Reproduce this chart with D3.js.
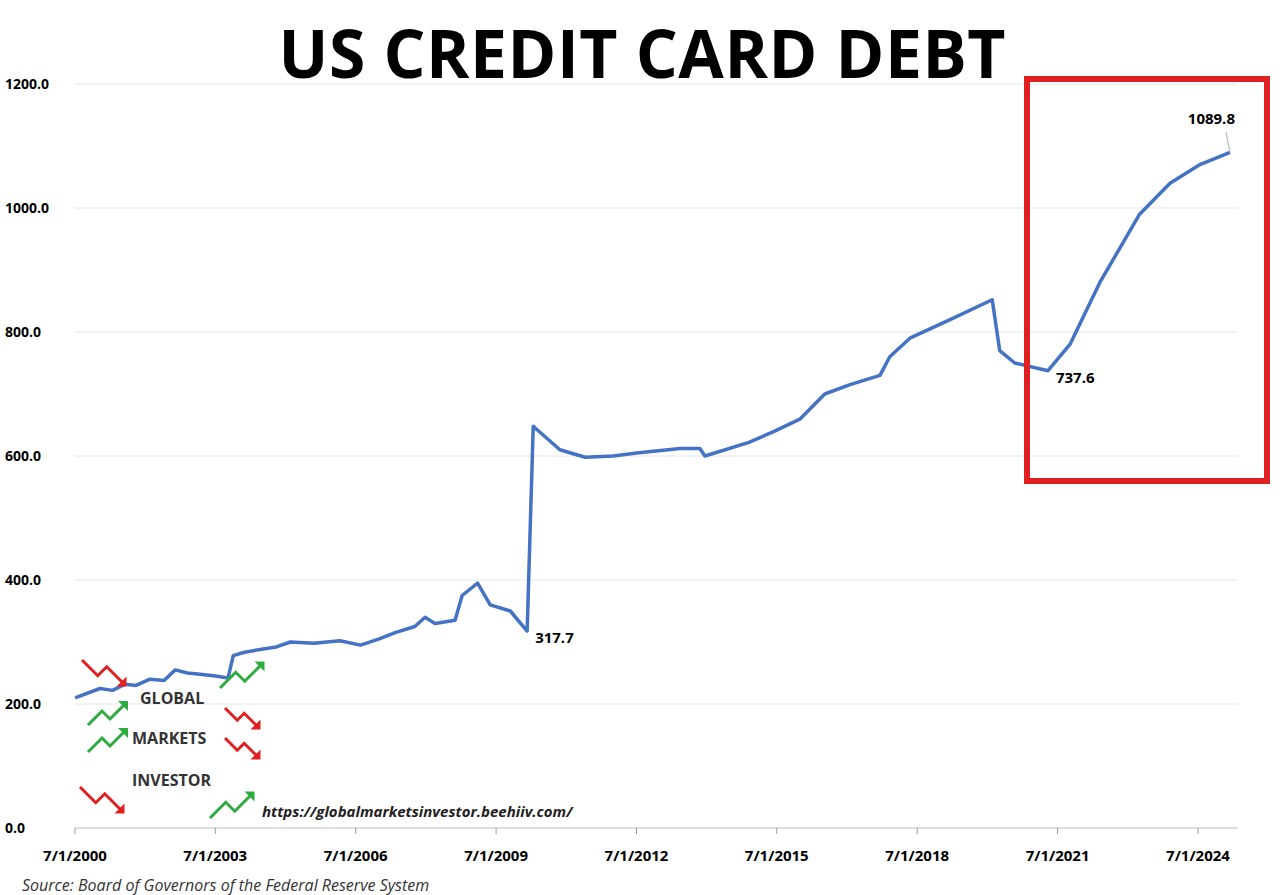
<!DOCTYPE html><html><head><meta charset="utf-8">
<script src="https://cdn.jsdelivr.net/npm/d3@7"></script>
<style>body{margin:0;background:#fff}text{font-family:"Open Sans","Liberation Sans",sans-serif}</style></head><body>
<svg id="c" width="1284" height="895"></svg>
<script>
const years=[2000.5,2001.03,2001.3,2001.57,2001.8,2002.1,2002.4,2002.64,2002.9,2003.17,2003.5,2003.77,2003.88,2004.1,2004.45,2004.8,2005.1,2005.6,2006.16,2006.6,2007.0,2007.34,2007.76,2007.98,2008.19,2008.62,2008.77,2009.1,2009.37,2009.8,2010.16,2010.29,2010.86,2011.4,2012.0,2012.5,2013.43,2013.85,2013.96,2014.9,2015.45,2016.0,2016.52,2017.06,2017.7,2017.91,2018.34,2019.2,2020.1,2020.26,2020.58,2021.29,2021.76,2022.4,2023.25,2023.9,2024.54,2025.18];
const values=[210,225,222,232,230,240,238,255,250,248,245,242,278,283,288,292,300,298,302,295,305,315,325,340,330,335,375,395,360,350,317.7,648,610,598,600,605,612,612,600,622,640,660,700,715,730,760,790,820,852,770,750,737.6,780,880,990,1040,1070,1089.8];
const yTicks=[0,200,400,600,800,1000,1200];
const xTickYears=[2000,2003,2006,2009,2012,2015,2018,2021,2024];
const labels=[{i:30,t:"317.7"},{i:51,t:"737.6"}];
const svg=d3.select("#c");
const toDate=yr=>{const y0=Math.floor(yr);const a=new Date(y0,0,1),b=new Date(y0+1,0,1);return new Date(+a+(b-a)*(yr-y0));};
const x=d3.scaleTime().domain([new Date(2000,6,1),new Date(2024,6,1)]).range([75,1198]);
const y=d3.scaleLinear().domain([0,1200]).range([828,84]);
svg.append("g").selectAll("line").data(yTicks.slice(1)).join("line").attr("x1",75).attr("x2",1238).attr("y1",d=>y(d)).attr("y2",d=>y(d)).attr("stroke","#e6e6e6");
svg.append("line").attr("x1",75).attr("x2",1238).attr("y1",y(0)).attr("y2",y(0)).attr("stroke","#bbb");
svg.append("g").selectAll("text").data(yTicks).join("text").attr("x",5).attr("y",d=>y(d)+5).attr("font-size",14).attr("font-weight","bold").text(d=>d.toFixed(1));
const xt=xTickYears.map(yr=>new Date(yr,6,1));
svg.append("g").selectAll("line").data(xt).join("line").attr("x1",d=>x(d)).attr("x2",d=>x(d)).attr("y1",828).attr("y2",834).attr("stroke","#999");
svg.append("g").selectAll("text").data(xt).join("text").attr("x",d=>x(d)).attr("y",861).attr("text-anchor","middle").attr("font-size",15).attr("font-weight","bold").text(d=>"7/1/"+d.getFullYear());
const data=years.map((d,i)=>({d:toDate(d),v:values[i]}));
svg.append("path").datum(data).attr("fill","none").attr("stroke","#4472c4").attr("stroke-width",3.5).attr("stroke-linejoin","round").attr("d",d3.line().x(d=>x(d.d)).y(d=>y(d.v)));
labels.forEach(l=>svg.append("text").attr("x",x(data[l.i].d)+8).attr("y",y(data[l.i].v)+12).attr("font-size",15).attr("font-weight","bold").text(l.t));
const last=data[data.length-1];
svg.append("line").attr("x1",x(last.d)).attr("y1",y(last.v)).attr("x2",x(last.d)-4).attr("y2",y(last.v)-20).attr("stroke","#aaa");
svg.append("text").attr("x",x(last.d)+5).attr("y",y(last.v)-28).attr("text-anchor","end").attr("font-size",15).attr("font-weight","bold").text("1089.8");
svg.append("text").attr("x",642).attr("y",78).attr("text-anchor","middle").attr("font-size",66).attr("font-weight","bold").attr("textLength",727).text("US CREDIT CARD DEBT");
svg.append("rect").attr("x",1027).attr("y",79).attr("width",240).attr("height",402).attr("fill","none").attr("stroke","#e02020").attr("stroke-width",6);
function arrow(x0,y0,up,w){const c=up?"#2eab3e":"#e02020";const s=up?-1:1;
 const p=`M${x0},${y0} l${w*0.35},${s*w*0.35} l${w*0.2},${-s*w*0.2} l${w*0.35},${s*w*0.35}`;
 svg.append("path").attr("d",p).attr("fill","none").attr("stroke",c).attr("stroke-width",3);
 const ex=x0+w*0.9,ey=y0+s*w*0.5;svg.append("path").attr("d",`M${ex+4},${ey+s*4} l-10,0 l10,${-s*10}z`).attr("fill",c);}
arrow(82,660,false,45);arrow(88,725,true,40);arrow(88,752,true,40);arrow(80,787,false,45);
arrow(220,688,true,45);arrow(225,708,false,35);arrow(225,738,false,35);arrow(210,818,true,45);
[["GLOBAL",140,704],["MARKETS",132,744],["INVESTOR",132,786]].forEach(t=>svg.append("text").attr("x",t[1]).attr("y",t[2]).attr("font-size",16).attr("font-weight","bold").attr("fill","#333").text(t[0]));
svg.append("text").attr("x",262).attr("y",817).attr("font-size",15).attr("font-weight","bold").attr("font-style","italic").attr("fill","#222").text("https://globalmarketsinvestor.beehiiv.com/");
svg.append("text").attr("x",22).attr("y",891).attr("font-size",16).attr("font-style","italic").attr("fill","#333").text("Source: Board of Governors of the Federal Reserve System");
</script></body></html>
